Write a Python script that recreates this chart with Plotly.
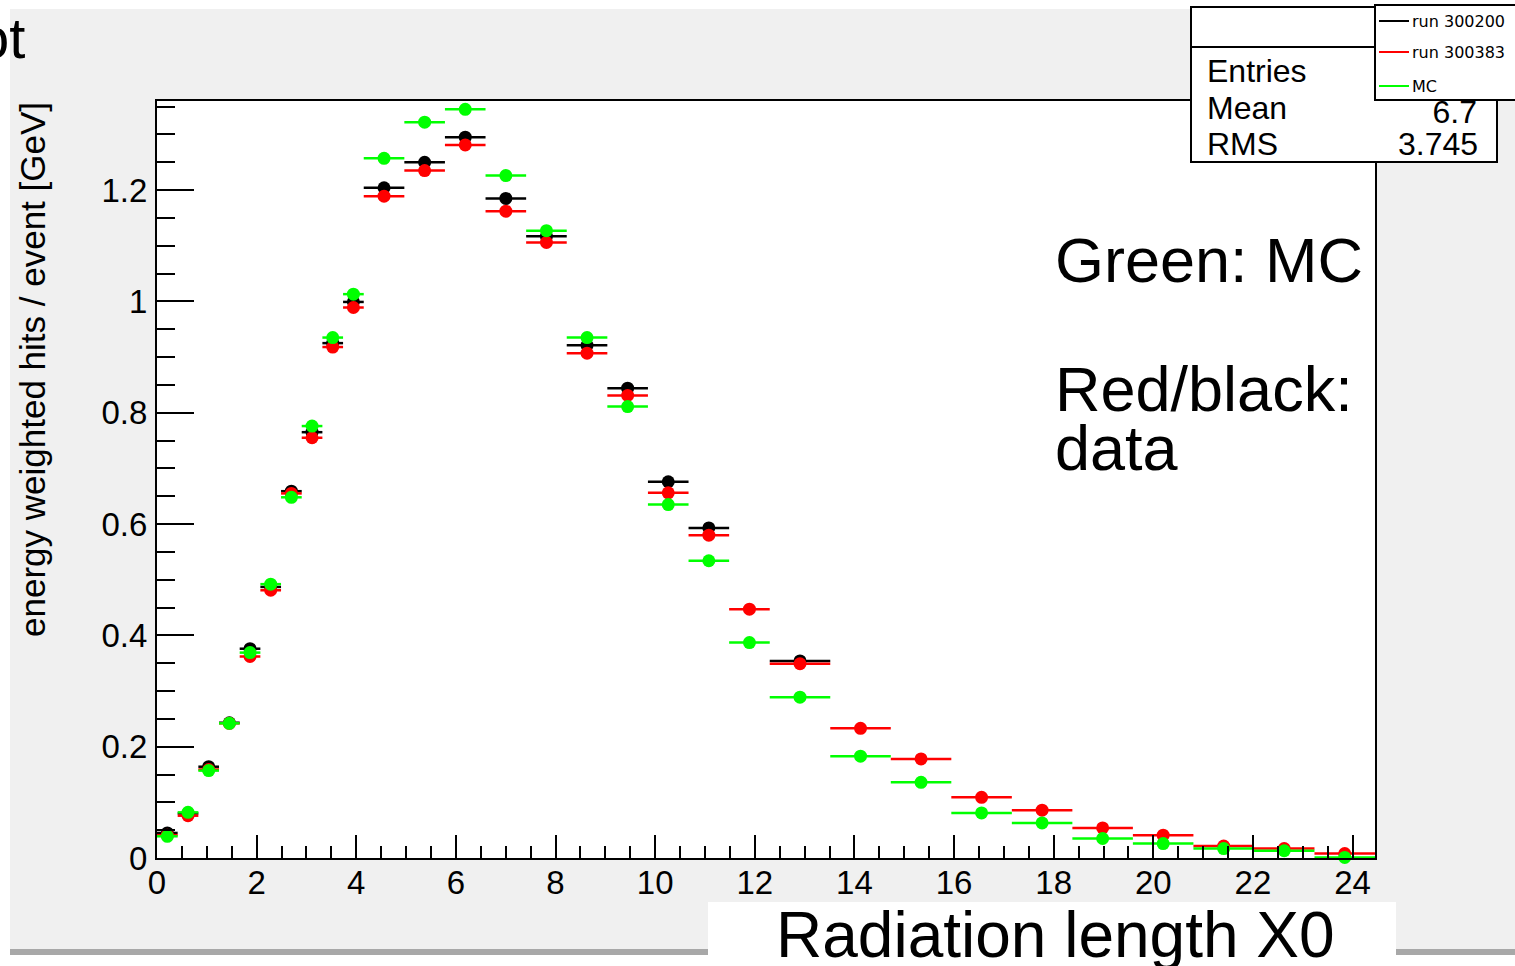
import plotly.graph_objects as go

# ---------------- data ----------------
bin_center = [0.2075, 0.6225, 1.0375, 1.4525, 1.8675, 2.2825, 2.6975, 3.1125, 3.5275, 3.9425,
              4.5575, 5.3725, 6.1875, 7.0025, 7.8175, 8.6325, 9.4475, 10.2625, 11.0775, 11.8925,
              12.9075, 14.1225, 15.3375, 16.5525, 17.7675, 18.9825, 20.1975, 21.4125, 22.6275, 23.8425]
bin_halfwidth = [0.2075, 0.2075, 0.2075, 0.2075, 0.2075, 0.2075, 0.2075, 0.2075, 0.2075, 0.2075,
                 0.4075, 0.4075, 0.4075, 0.4075, 0.4075, 0.4075, 0.4075, 0.4075, 0.4075, 0.4075,
                 0.6075, 0.6075, 0.6075, 0.6075, 0.6075, 0.6075, 0.6075, 0.6075, 0.6075, 0.6075]

run_300200 = [0.045, 0.080, 0.164, 0.243, 0.376, 0.487, 0.659, 0.765, 0.925, 0.999,
              1.204, 1.250, 1.295, 1.185, 1.117, 0.921, 0.844, 0.676, 0.593, None,
              0.354, None, None, None, None, None, None, None, None, None]
run_300383 = [0.041, 0.076, 0.159, 0.242, 0.362, 0.481, 0.655, 0.755, 0.918, 0.989,
              1.189, 1.235, 1.281, 1.162, 1.106, 0.907, 0.831, 0.656, 0.580, 0.447,
              0.349, 0.233, 0.178, 0.109, 0.086, 0.054, 0.041, 0.0215, 0.017, 0.008]
mc = [0.039, 0.082, 0.157, 0.242, 0.369, 0.492, 0.648, 0.776, 0.935, 1.013,
      1.257, 1.322, 1.345, 1.226, 1.127, 0.935, 0.811, 0.635, 0.534, 0.387,
      0.289, 0.183, 0.136, 0.081, 0.063, 0.035, 0.026, 0.017, 0.013, 0.001]

series_names = ["run 300200", "run 300383", "MC"]
series_colors = ["#000000", "#ff0000", "#00ff00"]

stats_labels = ["Entries", "Mean", "RMS"]
stats_values = [None, "6.7", "3.745"]

x_title = "Radiation length X0"
y_title = "energy weighted hits / event [GeV]"

FONT = "Liberation Sans, Arial, Helvetica, sans-serif"

# ---------------- page geometry (page is a bit taller than the 966 px window) ----------------
W, HP = 1515, 984


def px(t):
    return t / W


def py(t):
    return 1 - t / HP


# plot frame in page pixels
PL, PR, PT, PB = 157, 1375, 101, 858

fig = go.Figure()

for name, vals, col in zip(series_names, [run_300200, run_300383, mc], series_colors):
    fig.add_trace(go.Scatter(
        x=bin_center, y=vals, name=name, mode="markers",
        marker=dict(symbol="circle", size=13, color=col, line=dict(width=0)),
        error_x=dict(type="data", array=bin_halfwidth, symmetric=True,
                     thickness=2.5, width=0, color=col),
        cliponaxis=False, showlegend=False,
    ))

axis_common = dict(
    showline=True, linecolor="black", linewidth=2, mirror=True,
    ticks="inside", tickcolor="black", tickwidth=2,
    showgrid=False, zeroline=False, automargin=False,
    tickfont=dict(family=FONT, size=33, color="black"),
    fixedrange=True,
)

fig.update_layout(
    width=W, height=HP, autosize=False,
    margin=dict(l=0, r=0, t=0, b=0, pad=0),
    paper_bgcolor="white", plot_bgcolor="white",
    showlegend=False,
    xaxis=dict(domain=[px(PL), px(PR)], range=[0, 24.45], tick0=0, dtick=2, ticklen=23,
               minor=dict(ticks="inside", dtick=0.5, ticklen=12, tickwidth=2, tickcolor="black"),
               ticklabelstandoff=-6,
               **axis_common),
    yaxis=dict(domain=[py(PB), py(PT)], range=[0, 1.36], tick0=0, dtick=0.2, ticklen=37,
               minor=dict(ticks="inside", dtick=0.05, ticklen=18, tickwidth=2, tickcolor="black"),
               ticklabelstandoff=1,
               **axis_common),
)

shapes = []


def rect(x0, y0, x1, y1, layer="above", fill="white", line=None, **kw):
    d = dict(type="rect", xref="paper", yref="paper", layer=layer,
             x0=px(x0), x1=px(x1), y0=py(y1), y1=py(y0), fillcolor=fill,
             line=line if line else dict(width=0))
    d.update(kw)
    shapes.append(d)


def hline(x0, x1, y, color, width=2):
    shapes.append(dict(type="line", xref="paper", yref="paper", layer="above",
                       x0=px(x0), x1=px(x1), y0=py(y), y1=py(y),
                       line=dict(color=color, width=width)))


# ROOT canvas background, its bottom shadow and the white pad
rect(10, 9, 1530, 950, layer="below", fill="#f0f0f0")
rect(10, 949, 1530, 955, layer="below", fill="#a8a8a8")
rect(PL, PT, PR, PB, layer="below", fill="white")
# stats box
rect(1191, 7, 1497, 162, line=dict(color="black", width=2))
hline(1191, 1497, 47, "black")
# Mean value drawn as a shape label so that the legend box can overlap it
rect(1300, 97, 1480, 120, fill="rgba(0,0,0,0)",
     label=dict(text=stats_values[1], textposition="middle right", padding=0,
                font=dict(family=FONT, size=32, color="black")))
# legend box and its line samples
rect(1375, 5, 1540, 100, line=dict(color="black", width=2))
leg_y = [21, 52, 86]
for yy, col in zip(leg_y, series_colors):
    hline(1379, 1409, yy, col)
# white box behind the x title
rect(708, 902, 1396, 1000)

annotations = []


def ann(text, x, y, size, xanchor="left", family=FONT, textangle=0):
    annotations.append(dict(text=text, xref="paper", yref="paper", x=px(x), y=py(y),
                            xanchor=xanchor, yanchor="middle", showarrow=False,
                            textangle=textangle, borderpad=0,
                            font=dict(family=family, size=size, color="black")))


# stats texts
ann(stats_labels[0], 1206, 71, 32)
ann(stats_labels[1], 1206, 108.5, 32)
ann(stats_labels[2], 1206, 144, 32)
ann(stats_values[2], 1479, 144, 32, xanchor="right")
# legend texts
for yy, name in zip(leg_y, series_names):
    ann(name, 1411, yy, 16, family="DejaVu Sans, sans-serif")
# remarks
ann("Green: MC", 1054, 260.5, 63)
ann("Red/black:", 1054, 389, 63)
ann("data", 1054, 447.5, 63)
# axis titles
ann(x_title, 1055, 935, 64, xanchor="center")
ann(y_title, 33, 370, 35, xanchor="center", textangle=-90)
# cut-off canvas title
ann("ot", 26, 37, 58, xanchor="right")

fig.update_layout(shapes=shapes, annotations=annotations)

page_css = ("document.documentElement.style.margin='0';"
            "document.documentElement.style.padding='0';"
            "document.documentElement.style.overflow='hidden';"
            "document.body.style.margin='0';"
            "document.body.style.padding='0';"
            "document.body.style.overflow='hidden';")

fig.write_html("out.html", post_script=page_css, config={"displayModeBar": False})
